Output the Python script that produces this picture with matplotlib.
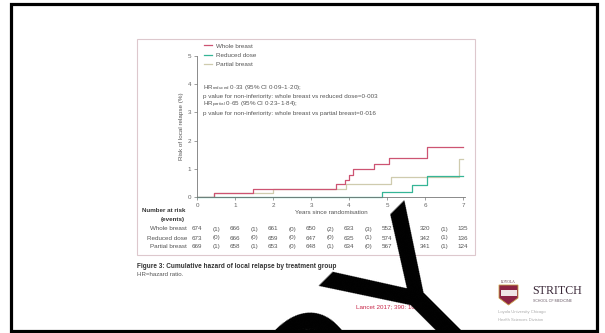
import matplotlib
matplotlib.use("Agg")
import matplotlib.pyplot as plt
import matplotlib.patches as mpatches
import matplotlib.transforms as mtransforms

# --- data ---
years = [0, 1, 2, 3, 4, 5, 6, 7]

whole_t = [0, 0.45, 1.48, 3.66, 3.89, 4.00, 4.11, 4.66, 5.06, 6.06, 7.0]
whole_y = [0, 0.15, 0.30, 0.46, 0.62, 0.79, 0.98, 1.18, 1.38, 1.77, 1.77]
reduced_t = [0, 4.86, 5.65, 6.04, 7.0]
reduced_y = [0, 0.17, 0.43, 0.76, 0.76]
partial_t = [0, 0.45, 2.0, 3.92, 5.11, 6.88, 7.0]
partial_y = [0, 0.15, 0.30, 0.46, 0.70, 1.36, 1.36]

groups = ["Whole breast", "Reduced dose", "Partial breast"]
at_risk = {
    "Whole breast": [674, 666, 661, 650, 633, 552, 320, 135],
    "Reduced dose": [673, 666, 659, 647, 635, 574, 342, 136],
    "Partial breast": [669, 658, 653, 648, 634, 567, 341, 124],
}
events = {
    "Whole breast": [1, 1, 0, 2, 3, 1, 1],
    "Reduced dose": [0, 0, 0, 0, 1, 1, 1],
    "Partial breast": [1, 1, 0, 1, 0, 1, 1],
}

C_WHOLE = "#cd5472"
C_REDUCED = "#35b596"
C_PARTIAL = "#cfcbae"
TXT = "#555555"
FS = 4.5

W, H = 605, 333
plt.rcParams['font.family'] = ['Liberation Sans', 'DejaVu Sans']


def fx(px):
    return px / W


def fy(py):
    return 1 - py / H


fig = plt.figure(figsize=(W / 100, H / 100), dpi=100)

# slide frame and figure box
fig.add_artist(mpatches.Rectangle((fx(11), fy(331)), fx(597) - fx(11), fy(4) - fy(331),
                                  transform=fig.transFigure, fill=False, ec="black", lw=2.3))
fig.add_artist(mpatches.Rectangle((fx(137), fy(255)), fx(475) - fx(137), fy(39) - fy(255),
                                  transform=fig.transFigure, fill=False, ec="#ddc8cd", lw=0.8))

ax = fig.add_axes([fx(197), fy(197), (465 - 197) / W, (197 - 56) / H])
ax.step(partial_t, partial_y, where="post", color=C_PARTIAL, lw=0.9, label="Partial breast")
ax.step(whole_t, whole_y, where="post", color=C_WHOLE, lw=0.9, label="Whole breast")
ax.step(reduced_t, reduced_y, where="post", color=C_REDUCED, lw=0.9, label="Reduced dose", clip_on=False)
ax.set_xlim(0, 7.05)
ax.set_ylim(0, 5)
ax.set_xticks(years)
ax.set_yticks([0, 1, 2, 3, 4, 5])
for s in ["top", "right"]:
    ax.spines[s].set_visible(False)
for s in ["left", "bottom"]:
    ax.spines[s].set_color("#777777")
    ax.spines[s].set_linewidth(0.6)
ax.tick_params(labelsize=FS, length=2.5, width=0.5, colors="#777777", labelcolor="#666666", pad=1.5)
ax.set_ylabel("Risk of local relapse (%)", fontsize=FS, color=TXT, labelpad=3)
ax.set_xlabel("Years since randomisation", fontsize=FS, color=TXT, labelpad=2)

h, l = ax.get_legend_handles_labels()
order = [1, 2, 0]
leg = ax.legend([h[i] for i in order], [l[i] for i in order], loc="upper left",
                bbox_to_anchor=(0.026, 1.09), frameon=False, fontsize=FS,
                handlelength=1.35, handletextpad=0.5, labelspacing=0.62,
                borderpad=0, borderaxespad=0)
for t in leg.get_texts():
    t.set_color(TXT)

hr_lines = [
    r"HR$_\mathregular{reduced}$ 0·33 (95% CI 0·09–1·20);",
    "p value for non-inferiority: whole breast vs reduced dose=0·003",
    r"HR$_\mathregular{partial}$ 0·65 (95% CI 0·23–1·84);",
    "p value for non-inferiority: whole breast vs partial breast=0·016",
]
for txt, py in zip(hr_lines, [88, 96.5, 105, 113.5]):
    fig.text(fx(203), fy(py), txt, fontsize=FS, color=TXT, va="center", ha="left")

# number at risk table
trans = mtransforms.blended_transform_factory(ax.transData, fig.transFigure)
fig.text(fx(185), fy(211), "Number at risk", fontsize=FS, fontweight="bold",
         color="#333333", ha="right", va="center")
fig.text(fx(185), fy(220), "(events)", fontsize=FS, fontweight="bold",
         color="#333333", ha="right", va="center")
for g, py in zip(groups, [229, 238, 246.5]):
    fig.text(fx(187), fy(py), g, fontsize=FS, color=TXT, ha="right", va="center")
    for yr, n in zip(years, at_risk[g]):
        ax.text(yr, fy(py), str(n), transform=trans, fontsize=FS, color=TXT,
                ha="center", va="center")
    for yr, e in zip(years[:-1], events[g]):
        ax.text(yr + 0.5, fy(py), f"({e})", transform=trans, fontsize=FS, color=TXT,
                ha="center", va="center")

fig.text(fx(137), fy(266), "Figure 3: Cumulative hazard of local relapse by treatment group",
         fontsize=4.7, fontweight="bold", color="#333333", ha="left", va="center")
fig.text(fx(137), fy(275), "HR=hazard ratio.", fontsize=4.4, color=TXT, ha="left", va="center")

fig.text(fx(356), fy(307), "Lancet 2017; 390: 1048–60", fontsize=4.5, color="#c8284a",
         ha="left", va="center")

# logo
fig.text(fx(508), fy(282), "LOYOLA", fontsize=2.6, color="#5a3040", ha="center", va="center",
         family="Liberation Serif")
fig.add_artist(mpatches.Polygon([(fx(499), fy(285)), (fx(518), fy(285)), (fx(518), fy(298)),
                                 (fx(508.5), fy(305)), (fx(499), fy(298))],
                                closed=True, transform=fig.transFigure,
                                fc="#8c2444", ec="#c9a04a", lw=0.6))
fig.add_artist(mpatches.Rectangle((fx(501), fy(296)), fx(16) - fx(0), fy(290) - fy(296),
                                  transform=fig.transFigure, fc="#f0e6e6", ec="none"))
fig.text(fx(532), fy(291), "STRITCH", fontsize=8.6, color="#3a2838", ha="left", va="center",
         family="Liberation Serif")
fig.text(fx(533), fy(300.5), "SCHOOL OF MEDICINE", fontsize=2.6, color="#6a5a66",
         ha="left", va="center")
fig.text(fx(498), fy(312), "Loyola University Chicago", fontsize=3.0, color="#aaaaaa",
         ha="left", va="center")
fig.text(fx(498), fy(320), "Health Sciences Division", fontsize=3.0, color="#aaaaaa",
         ha="left", va="center")

# big black watermark running over the slide
fig.text(fx(500), fy(285), "COPY", fontsize=140, color="black", rotation=45,
         rotation_mode="anchor", ha="right", va="baseline", zorder=20)

fig.savefig("out.png", dpi=100)
